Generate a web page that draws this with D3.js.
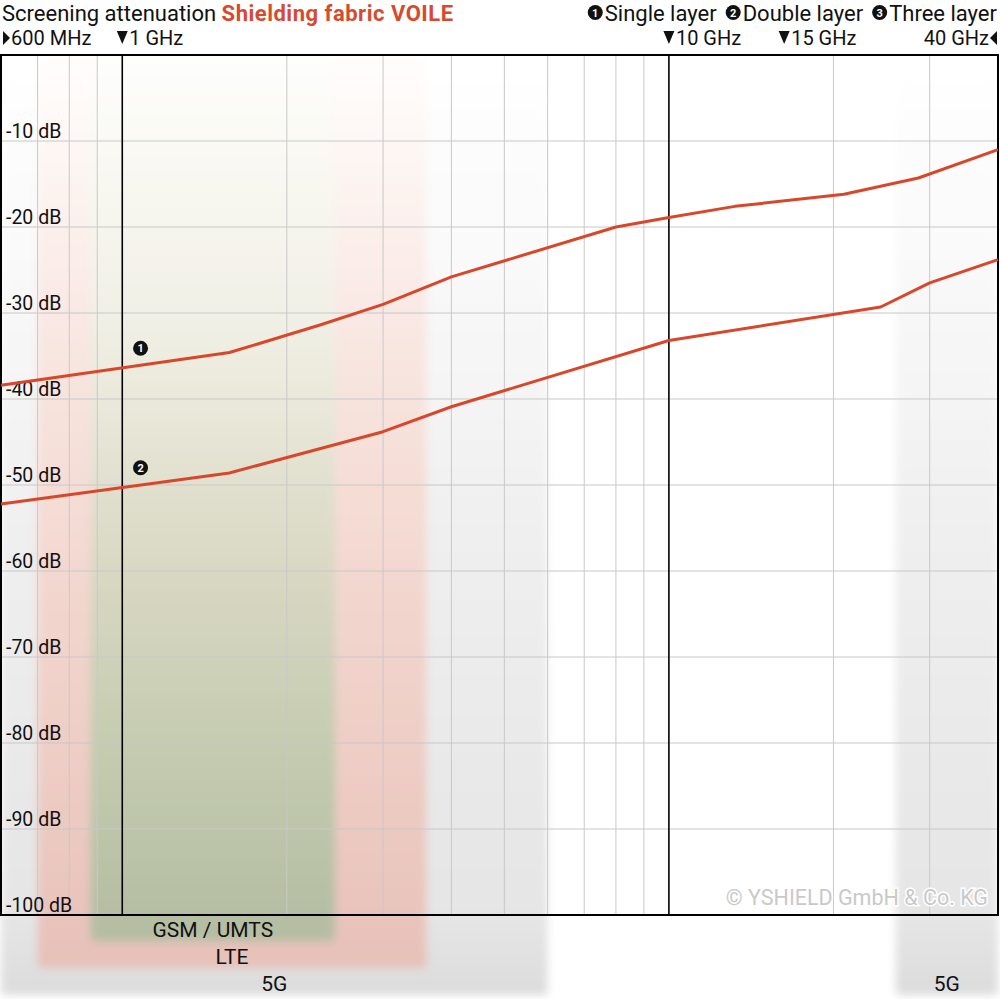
<!DOCTYPE html>
<html>
<head>
<meta charset="utf-8">
<script src="https://cdn.jsdelivr.net/npm/d3@7"></script>
<style>
  body { margin: 0; background: #fff; }
  svg { display: block; font-family: Roboto, "Open Sans", sans-serif; }
</style>
</head>
<body>
<svg id="chart" width="1000" height="999"></svg>
<script>
// ---- data ----
const minorFreqs = [0.7, 0.8, 0.9, 2, 3, 4, 5, 6, 7, 8, 9, 20, 30]; // GHz
const majorFreqs = [1, 10];
const dbTicks = [-10, -20, -30, -40, -50, -60, -70, -80, -90, -100];

const topMarkers = [
  { label: "600 MHz", f: 0.6, dir: "right" },
  { label: "1 GHz", f: 1, dir: "down" },
  { label: "10 GHz", f: 10, dir: "down" },
  { label: "15 GHz", f: 15, dir: "down" },
  { label: "40 GHz", f: 40, dir: "left" },
];

// frequency bands (GHz)
const bandNames = ["5G", "5G", "LTE", "GSM / UMTS"];
const bandFrom = [0.6, 26, 0.7, 0.875];
const bandTo = [6, 40, 3.6, 2.45];
const bandLevel = [0, 0, 1, 2];

// screening attenuation (GHz, dB)
const singleLayer = [
  [0.6, -38.4], [1.57, -34.6], [2.3, -31.4], [3, -29.0], [4, -25.8],
  [8, -20.0], [10, -18.9], [13.2, -17.6], [20.9, -16.2], [28.6, -14.3], [40, -11.0],
];
const doubleLayer = [
  [0.6, -52.2], [1.57, -48.6], [3, -43.8], [4, -40.9], [10, -33.2],
  [24.4, -29.3], [30, -26.5], [40, -23.8],
];
const curveLabels = [
  { n: "1", f: 1.08, db: -34.1 },
  { n: "2", f: 1.08, db: -48.0 },
];
const legendItems = [
  { n: "1", label: "Single layer" },
  { n: "2", label: "Double layer" },
  { n: "3", label: "Three layer" },
];

// ---- layout ----
const plot = { left: 1, right: 998, top: 55, bottom: 915 };
const red = "#d9472b";

const svg = d3.select("#chart");
const x = d3.scaleLog([0.6, 40], [plot.left, plot.right]);
const y = d3.scaleLinear([-100, 0], [plot.bottom, plot.top]);

const defs = svg.append("defs");
defs.append("filter")
  .attr("id", "soft")
  .attr("x", "-10%").attr("y", "-10%")
  .attr("width", "120%").attr("height", "120%")
  .append("feGaussianBlur")
  .attr("stdDeviation", 4);

const gradStops = [
  [[0, "#ffffff"], [0.2, "#fafafa"], [0.55, "#eeeeee"], [0.92, "#e5e5e5"], [1, "#dcdcdc"]],
  [[0, "#fffefd"], [0.12, "#fdf5f2"], [0.28, "#f9e8e3"], [0.55, "#f3d8d0"], [0.9, "#e9c5bd"], [1, "#e5bfb7"]],
  [[0, "#fefefc"], [0.12, "#f9f8f2"], [0.28, "#f1f0e6"], [0.55, "#d9d8c3"], [0.74, "#c4cbb0"], [0.9, "#b6bfa4"], [1, "#b2bca0"]],
];
const bandBottom = [995, 968, 941];

gradStops.forEach((stops, i) => {
  const g = defs.append("linearGradient")
    .attr("id", "band" + i)
    .attr("gradientUnits", "userSpaceOnUse")
    .attr("x1", 0).attr("x2", 0)
    .attr("y1", plot.top).attr("y2", 995);
  g.selectAll("stop")
    .data(stops)
    .join("stop")
    .attr("offset", (d) => d[0])
    .attr("stop-color", (d) => d[1]);
});

const bands = bandNames.map((name, i) => ({
  name, f0: bandFrom[i], f1: bandTo[i], level: bandLevel[i],
}));

svg.append("g")
  .selectAll("rect")
  .data(bands)
  .join("rect")
  .attr("x", (d) => x(d.f0))
  .attr("y", plot.top)
  .attr("width", (d) => x(d.f1) - x(d.f0))
  .attr("height", (d) => bandBottom[d.level] - plot.top)
  .attr("rx", 4)
  .attr("fill", (d) => `url(#band${d.level})`)
  .attr("filter", "url(#soft)");

// grid
const grid = svg.append("g");
grid.selectAll("line.h")
  .data(dbTicks)
  .join("line")
  .attr("class", "h")
  .attr("x1", plot.left).attr("x2", plot.right)
  .attr("y1", (d) => y(d)).attr("y2", (d) => y(d))
  .attr("stroke", "#c8c8c8");
grid.selectAll("line.v")
  .data(minorFreqs)
  .join("line")
  .attr("class", "v")
  .attr("x1", (d) => x(d)).attr("x2", (d) => x(d))
  .attr("y1", plot.top).attr("y2", plot.bottom)
  .attr("stroke", "#c8c8c8");
grid.selectAll("line.m")
  .data(majorFreqs)
  .join("line")
  .attr("class", "m")
  .attr("x1", (d) => x(d)).attr("x2", (d) => x(d))
  .attr("y1", plot.top).attr("y2", plot.bottom)
  .attr("stroke", "#000")
  .attr("stroke-width", 1.6);

svg.append("rect")
  .attr("x", plot.left).attr("y", plot.top)
  .attr("width", plot.right - plot.left)
  .attr("height", plot.bottom - plot.top)
  .attr("fill", "none")
  .attr("stroke", "#000")
  .attr("stroke-width", 2);

// y labels
svg.append("g")
  .selectAll("text")
  .data(dbTicks)
  .join("text")
  .attr("x", 6)
  .attr("y", (d) => y(d) - 3)
  .attr("font-size", 19.5)
  .attr("fill", "#111")
  .text((d) => `${d} dB`);

// curves
const line = d3.line()
  .x((d) => x(d[0]))
  .y((d) => y(d[1]));
svg.append("g")
  .selectAll("path")
  .data([singleLayer, doubleLayer])
  .join("path")
  .attr("d", line)
  .attr("fill", "none")
  .attr("stroke", red)
  .attr("stroke-width", 3)
  .attr("stroke-linejoin", "round");

function badge(g, cx, cy, n) {
  g.append("circle").attr("cx", cx).attr("cy", cy).attr("r", 7.5).attr("fill", "#111");
  g.append("text")
    .attr("x", cx).attr("y", cy + 4)
    .attr("text-anchor", "middle")
    .attr("font-size", 11)
    .attr("font-weight", "bold")
    .attr("fill", "#fff")
    .text(n);
}

const labelsG = svg.append("g");
curveLabels.forEach((d) => badge(labelsG, x(d.f), y(d.db), d.n));

// copyright
svg.append("text")
  .attr("x", 988).attr("y", 905)
  .attr("text-anchor", "end")
  .attr("font-size", 21.5)
  .attr("fill", "#c9c9c9")
  .attr("stroke", "#fff")
  .attr("stroke-width", 3)
  .attr("paint-order", "stroke")
  .text("© YSHIELD GmbH & Co. KG");

// title
const headY = 20.5;
const title = svg.append("text").attr("x", 2).attr("y", headY).attr("font-size", 22).attr("fill", "#111");
title.append("tspan").text("Screening attenuation ");
title.append("tspan")
  .attr("font-weight", "bold")
  .attr("letter-spacing", 0.5)
  .attr("fill", "#d64b2f")
  .text("Shielding fabric VOILE");

// legend, laid out from the right
const legend = svg.append("g");
let cursor = 997;
legendItems.slice().reverse().forEach((item) => {
  const t = legend.append("text")
    .attr("x", cursor).attr("y", headY)
    .attr("text-anchor", "end")
    .attr("font-size", 22)
    .attr("fill", "#111")
    .text(item.label);
  const w = t.node().getComputedTextLength();
  const cx = cursor - w - 2 - 7.5;
  badge(legend, cx, headY - 8, item.n);
  cursor = cx - 7.5 - 9;
});

// frequency markers above the plot
const markers = svg.append("g").attr("font-size", 20).attr("fill", "#111");
const markerNudge = { "15 GHz": 19 };
topMarkers.forEach((m) => {
  const mx = x(m.f) + (markerNudge[m.label] || 0);
  if (m.dir === "down") {
    markers.append("path")
      .attr("d", `M${mx - 5.5},31L${mx + 5.5},31L${mx},44Z`)
      .attr("fill", "#111");
    markers.append("text").attr("x", mx + 7).attr("y", 45).text(m.label);
  } else if (m.dir === "right") {
    markers.append("path")
      .attr("d", `M${mx + 2},31L${mx + 9},38L${mx + 2},45Z`)
      .attr("fill", "#111");
    markers.append("text").attr("x", mx + 10).attr("y", 45).text(m.label);
  } else {
    markers.append("path")
      .attr("d", `M${mx - 1},31L${mx - 8},38L${mx - 1},45Z`)
      .attr("fill", "#111");
    markers.append("text").attr("x", mx - 9).attr("y", 45)
      .attr("text-anchor", "end").text(m.label);
  }
});

// band names below the plot
svg.append("g")
  .selectAll("text")
  .data(bands)
  .join("text")
  .attr("x", (d) => (x(d.f0) + x(d.f1)) / 2)
  .attr("y", (d) => bandBottom[d.level] - 4)
  .attr("text-anchor", "middle")
  .attr("font-size", 21)
  .attr("fill", "#111")
  .text((d) => d.name);
</script>
</body>
</html>
